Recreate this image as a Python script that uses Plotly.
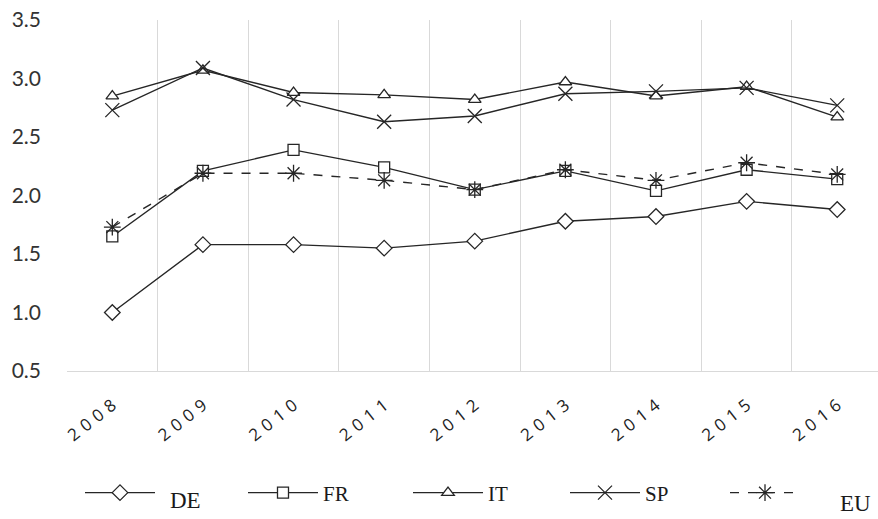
import plotly.graph_objects as go

years = ["2008", "2009", "2010", "2011", "2012", "2013", "2014", "2015", "2016"]
de = [1.00, 1.58, 1.58, 1.55, 1.61, 1.78, 1.82, 1.95, 1.88]
fr = [1.65, 2.21, 2.39, 2.24, 2.05, 2.21, 2.04, 2.22, 2.14]
it = [2.85, 3.07, 2.88, 2.86, 2.82, 2.97, 2.85, 2.93, 2.67]
sp = [2.73, 3.09, 2.82, 2.63, 2.68, 2.87, 2.89, 2.92, 2.77]
eu = [1.73, 2.19, 2.19, 2.13, 2.05, 2.22, 2.13, 2.28, 2.18]

y_ticks = [0.5, 1.0, 1.5, 2.0, 2.5, 3.0, 3.5]

ink = "#262626"
x_pos = list(range(len(years)))
# widely tracked year labels
year_labels = ["\u2004".join(y) for y in years]

# plot area in pixels (used to place legend boxes in paper units)
PL, PR, PT, PB = 67, 878, 20, 371
PW, PH = PR - PL, PB - PT

def px_x(px):
    return (px - PL) / PW

def px_y(py):
    return (PB - py) / PH

# name, values, symbol, size, dash, fill, legend text, legend left edge (px)
series = [
    ("DE", de, "diamond", 12, "solid", "white", "", 80),
    ("FR", fr, "square", 11, "solid", "white", "FR", 243),
    ("IT", it, "triangle-up", 11, "solid", "white", "IT", 408),
    ("SP", sp, "x-thin", 14, "solid", ink, "SP", 565),
    ("EU", eu, "asterisk", 14, "dash", ink, "", 725),
]

fig = go.Figure()
legends = {}
for i, (name, vals, sym, size, dash, fill, shown, lx) in enumerate(series):
    key = "legend" if i == 0 else f"legend{i + 1}"
    fig.add_trace(go.Scatter(
        x=x_pos, y=vals, mode="lines+markers", name=shown, legend=key,
        line=dict(color=ink, width=1.4, dash=dash),
        marker=dict(symbol=sym, size=size, color=fill,
                    line=dict(color=ink, width=1.3)),
    ))
    legends[key] = dict(
        orientation="h", x=px_x(lx), xanchor="left",
        y=px_y(493), yanchor="middle",
        itemwidth=70,
        font=dict(family="Liberation Serif", size=21, color="#1a1a1a"),
        bgcolor="rgba(0,0,0,0)",
    )

fig.update_layout(
    width=878, height=519,
    margin=dict(l=PL, r=0, t=PT, b=519 - PB),
    paper_bgcolor="white", plot_bgcolor="white",
    showlegend=True,
    xaxis=dict(
        range=[-0.5, 8.45],
        tickmode="array", tickvals=x_pos, ticktext=year_labels,
        tickangle=-38, ticklabelstandoff=17,
        tickfont=dict(family="Open Sans", size=17, color="#222222"),
        showgrid=False, zeroline=False,
        showline=True, linecolor="#d9d9d9", linewidth=1,
        ticks="",
        minor=dict(tickmode="array",
                   tickvals=[i - 0.5 for i in range(len(years) + 1)],
                   showgrid=True, gridcolor="#d9d9d9", gridwidth=1, ticks=""),
    ),
    yaxis=dict(
        range=[0.5, 3.5],
        tickmode="array", tickvals=y_ticks,
        ticktext=[f"{v:.1f}" for v in y_ticks],
        tickfont=dict(family="Lato", size=21, color="#333333"),
        showgrid=False, zeroline=False, showline=False, ticks="",
        ticklabelstandoff=25,
    ),
    annotations=[
        dict(text="DE", xref="paper", yref="paper", x=px_x(168), y=px_y(500),
             xanchor="left", yanchor="middle", showarrow=False,
             font=dict(family="Liberation Serif", size=23, color="#1a1a1a")),
        dict(text="EU", xref="paper", yref="paper", x=px_x(838), y=px_y(503),
             xanchor="left", yanchor="middle", showarrow=False,
             font=dict(family="Liberation Serif", size=23, color="#1a1a1a")),
    ],
    **legends,
)

fig.write_html("out.html")
